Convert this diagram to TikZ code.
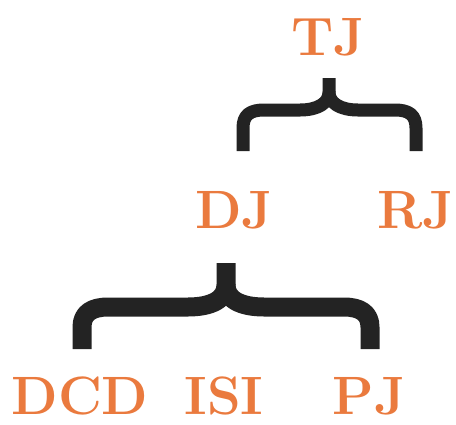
\documentclass[tikz,border=0pt]{standalone}
\usepackage{xcolor}
\definecolor{jorange}{RGB}{234,122,62}
\definecolor{braceblack}{RGB}{35,35,35}
\tikzset{
  jname/.style={text=jorange,font=\fontsize{54}{60}\selectfont\bfseries,anchor=base,inner sep=0pt},
  bracestroke/.style={draw=braceblack,line width=#1,line join=round}
}
\begin{document}
\begin{tikzpicture}[x=1pt,y=-1pt]
\useasboundingbox (0,0) rectangle (456,424);
\node[jname] (tj) at (328,55) {TJ};
\node[jname] (dj) at (234,228) {DJ};
\node[jname] (rj) at (416,228) {RJ};
\node[jname] (dcd) at (80,414) {DCD};
\node[jname] (isi) at (224,414) {ISI};
\node[jname] (pj) at (369,414) {PJ};
% upper brace
\draw[bracestroke=13pt] (243,151) -- (243,128) .. controls (243,115) and (250,110) .. (264,110)
	-- (300,110) .. controls (318,110) and (329,103) .. (329,92) -- (329,78);
\draw[bracestroke=13pt] (416,151) -- (416,128) .. controls (416,115) and (409,110) .. (395,110)
	-- (358,110) .. controls (340,110) and (329,103) .. (329,92);
% lower brace
\draw[bracestroke=19pt] (82,349) -- (82,327) .. controls (82,313) and (92,307) .. (108,307)
	-- (188,307) .. controls (212,307) and (226,299) .. (226,285) -- (226,263);
\draw[bracestroke=19pt] (370,349) -- (370,327) .. controls (370,313) and (360,307) .. (344,307)
	-- (264,307) .. controls (240,307) and (226,299) .. (226,285);
\end{tikzpicture}
\end{document}
